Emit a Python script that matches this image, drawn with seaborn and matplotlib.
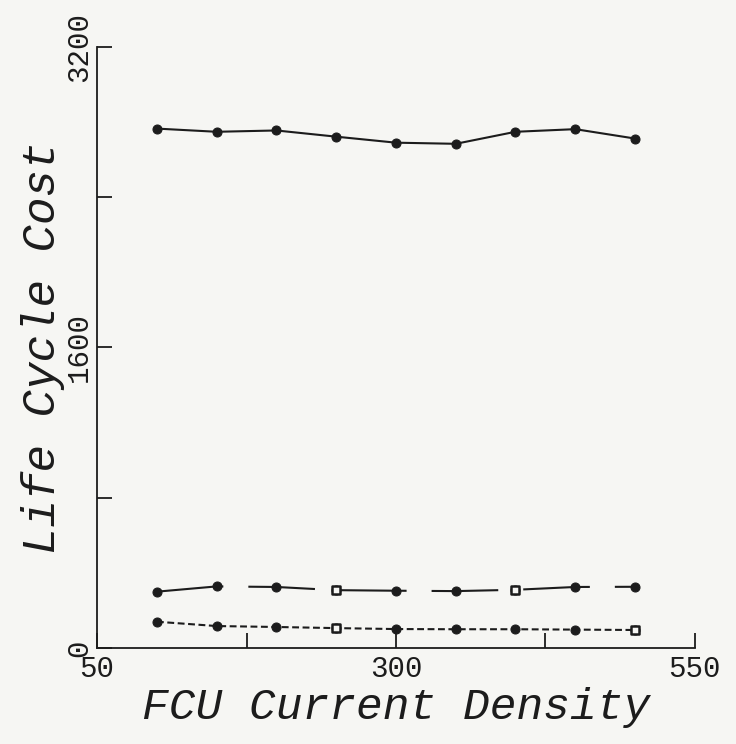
import matplotlib
matplotlib.use("Agg")
import matplotlib.pyplot as plt
import seaborn as sns
import pandas as pd

# FCU current density values
density = [100, 150, 200, 250, 300, 350, 400, 450, 500]

# life cycle cost for the three curves
cost_top = [2765, 2748, 2755, 2722, 2690, 2684, 2748, 2762, 2712]
cost_mid = [300, 328, 325, 308, 305, 303, 310, 325, 326]
cost_low = [140, 117, 112, 106, 101, 100, 100, 98, 96]

# points drawn as open squares on the plotter
open_mid = [250, 400]
open_low = [250, 500]

sns.set_style("white")
plt.rcParams['font.family'] = ['Liberation Mono', 'DejaVu Sans Mono']

rows = []
for name, vals in [("top", cost_top), ("mid", cost_mid), ("low", cost_low)]:
    for x, y in zip(density, vals):
        rows.append([name, x, y])
df = pd.DataFrame(rows, columns=["series", "density", "cost"])

ink = "#1c1c1c"
paper = "#f6f6f3"
fig = plt.figure(figsize=(7.36, 7.44), dpi=100, facecolor=paper)
ax = fig.add_axes([0.132, 0.129, 0.812, 0.808])
ax.set_facecolor(paper)

sns.lineplot(data=df, x="density", y="cost", style="series",
             dashes={"top": "", "mid": (32, 12), "low": (3.3, 1.7)},
             markers={"top": "o", "mid": "o", "low": "o"},
             color=ink, linewidth=1.5, markersize=6.5,
             markeredgecolor=ink, legend=False, ax=ax)

hollow = df[((df.series == "mid") & df.density.isin(open_mid)) |
            ((df.series == "low") & df.density.isin(open_low))]
sns.scatterplot(data=hollow, x="density", y="cost", marker="s", s=32,
                facecolor=paper, edgecolor=ink, linewidth=1.8,
                zorder=5, ax=ax, legend=False)

ax.set_xlim(50, 550)
ax.set_ylim(0, 3200)
sns.despine(ax=ax)
for s in ["left", "bottom"]:
    ax.spines[s].set_color(ink)
    ax.spines[s].set_linewidth(1.3)

ax.set_xticks([50, 175, 300, 425, 550])
ax.set_xticklabels(["50", "", "300", "", "550"])
ax.set_yticks([0, 800, 1600, 2400, 3200])
ax.set_yticklabels(["0", "", "1600", "", "3200"], rotation=90, va="center")
ax.tick_params(axis="both", direction="in", length=11, width=1.3,
               colors=ink, labelsize=21, pad=5, bottom=True, left=True)
ax.tick_params(axis="y", pad=3)

ax.set_xlabel("FCU Current Density", fontsize=32, style="italic",
              color=ink, labelpad=3)
ax.set_ylabel("Life Cycle Cost", fontsize=33, style="italic",
              color=ink, labelpad=0)

fig.savefig("out.png", dpi=100, facecolor=paper)
